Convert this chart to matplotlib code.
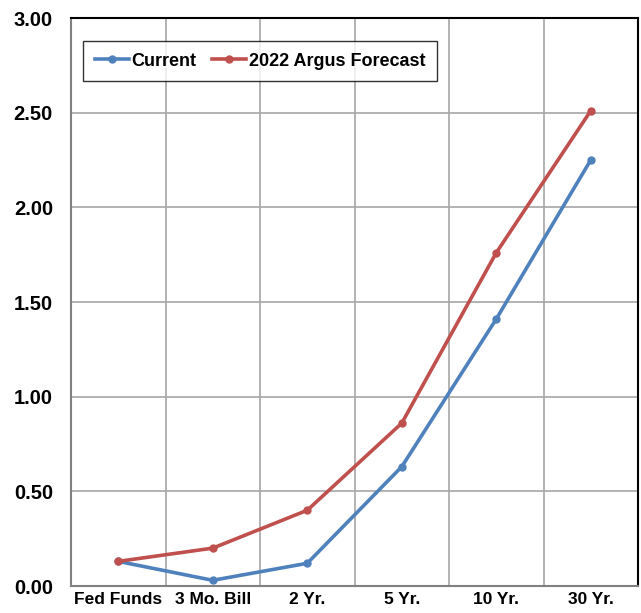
import matplotlib
matplotlib.use("Agg")
import matplotlib.pyplot as plt
import numpy as np

categories = ["Fed Funds", "3 Mo. Bill", "2 Yr.", "5 Yr.", "10 Yr.", "30 Yr."]
current = [0.13, 0.03, 0.12, 0.63, 1.41, 2.25]
forecast = [0.13, 0.20, 0.40, 0.86, 1.76, 2.51]
yticks = [0.0, 0.5, 1.0, 1.5, 2.0, 2.5, 3.0]

plt.rcParams['font.family'] = ['Liberation Sans', 'DejaVu Sans']

fig = plt.figure(figsize=(6.41, 6.13), dpi=100)
ax = fig.add_axes([71/641, 27/613, (638-71)/641, (586-18)/613])

x = np.arange(len(categories))
ax.plot(x, current, color="#4F81BD", lw=2.6, marker="o", ms=5, label="Current")
ax.plot(x, forecast, color="#C0504D", lw=2.6, marker="o", ms=5, label="2022 Argus Forecast")

ax.set_xlim(-0.5, len(categories) - 0.5)
ax.set_ylim(0, 3.0)
ax.set_yticks(yticks)
ax.set_yticklabels([f"{v:.2f}" for v in yticks], fontsize=14.5, fontweight="bold")
ax.set_xticks(x)
ax.set_xticklabels(categories, fontsize=12.5, fontweight="bold")
ax.set_xticks(np.arange(len(categories) + 1) - 0.5, minor=True)
ax.grid(False)
ax.grid(True, which="minor", axis="x", color="#A6A6A6", lw=1.2)
ax.grid(True, which="major", axis="y", color="#A6A6A6", lw=1.2)
ax.tick_params(axis="both", which="both", length=0)
ax.tick_params(axis="x", pad=4)
ax.tick_params(axis="y", pad=13)
for s in ["top", "right"]:
    ax.spines[s].set_color("black")
    ax.spines[s].set_linewidth(1.5)
for s in ["left", "bottom"]:
    ax.spines[s].set_color("#808080")
    ax.spines[s].set_linewidth(1.5)
ax.set_axisbelow(True)

leg = ax.legend(loc="upper left", bbox_to_anchor=(12/567, 1 - 23/568), ncol=2,
                borderaxespad=0,
                frameon=True, fancybox=False, edgecolor="black", handlelength=1.9,
                handletextpad=0.15, columnspacing=0.85, borderpad=0.65,
                prop={"weight": "bold", "size": 13})
leg.get_frame().set_linewidth(1.0)

fig.savefig("out.png", dpi=100)
